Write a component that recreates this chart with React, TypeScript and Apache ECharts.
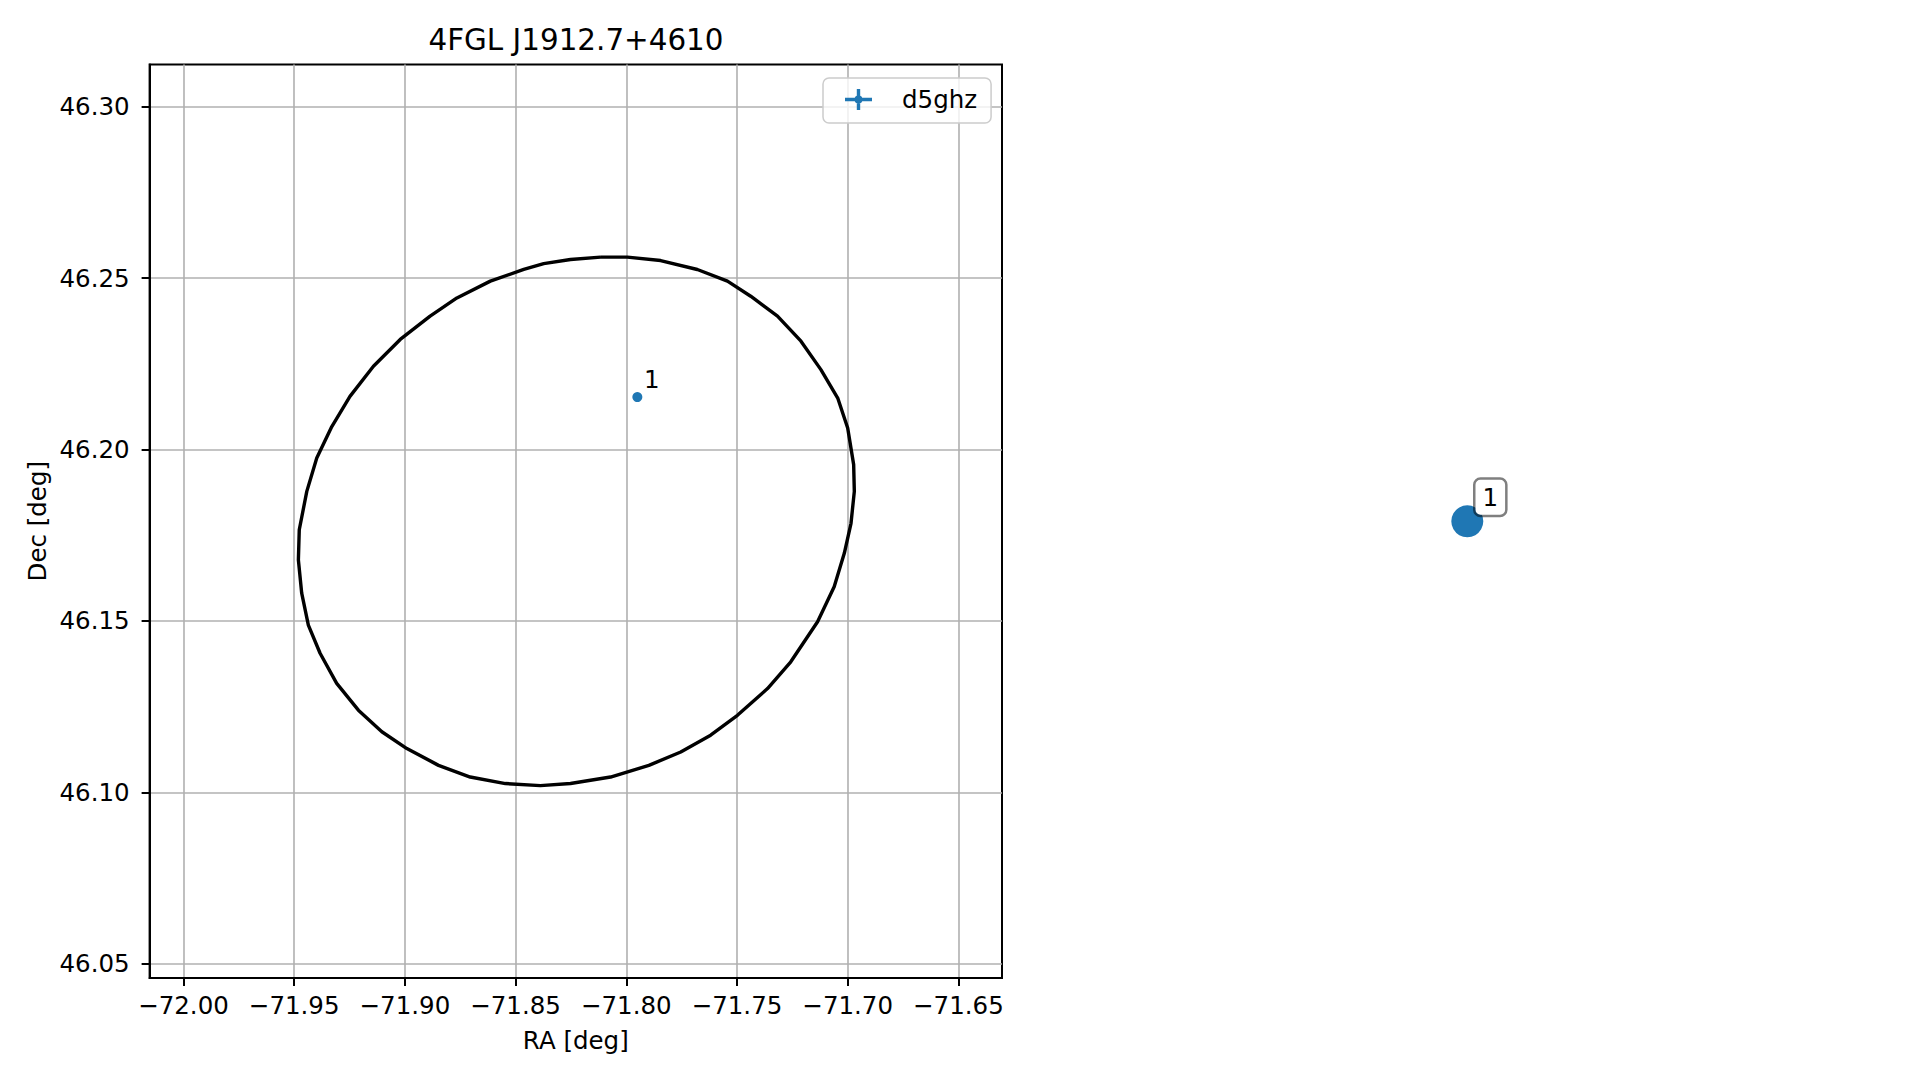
import React, { useEffect, useRef } from "react";
import * as echarts from "echarts";

const TITLE = "4FGL J1912.7+4610";
const SERIES_NAME = "d5ghz";

const ellipseRA = [-71.8116, -71.7995, -71.7845, -71.7679, -71.7543, -71.7438, -71.7317, -71.7211, -71.7121, -71.7045, -71.7000, -71.6973, -71.6970, -71.6985, -71.7015, -71.7061, -71.7136, -71.7257, -71.7362, -71.7498, -71.7619, -71.7754, -71.7898, -71.8071, -71.8252, -71.8388, -71.8546, -71.8705, -71.8848, -71.8991, -71.9104, -71.9210, -71.9308, -71.9383, -71.9436, -71.9466, -71.9481, -71.9477, -71.9443, -71.9398, -71.9330, -71.9248, -71.9142, -71.9021, -71.8886, -71.8765, -71.8614, -71.8463, -71.8373, -71.8252, -71.8116];
const ellipseDec = [46.2561, 46.2561, 46.2551, 46.2525, 46.2491, 46.2447, 46.2389, 46.2316, 46.2233, 46.2150, 46.2063, 46.1956, 46.1878, 46.1785, 46.1698, 46.1600, 46.1498, 46.1381, 46.1303, 46.1225, 46.1167, 46.1118, 46.1079, 46.1045, 46.1026, 46.1020, 46.1026, 46.1045, 46.1079, 46.1128, 46.1177, 46.1240, 46.1318, 46.1406, 46.1488, 46.1581, 46.1678, 46.1766, 46.1878, 46.1975, 46.2067, 46.2155, 46.2243, 46.2321, 46.2389, 46.2442, 46.2491, 46.2525, 46.2542, 46.2554, 46.2561];

const sourceRA = [-71.795];
const sourceDec = [46.2153];
const sourceLabels = ["1"];

const xTicks = [-72.0, -71.95, -71.9, -71.85, -71.8, -71.75, -71.7, -71.65];
const yTicks = [46.05, 46.1, 46.15, 46.2, 46.25, 46.3];
const xRange = [-72.0153, -71.6303];
const yRange = [46.0459, 46.3123];

const sideX = [0];
const sideY = [0];
const sideLabels = ["1"];

const FONT = "DejaVu Sans";
const BLUE = "#1f77b4";

const fmtX = (v: number) => (v < 0 ? "\u2212" : "") + Math.abs(v).toFixed(2);
const fmtY = (v: number) => v.toFixed(2);

export default function App() {
  const ref = useRef<HTMLDivElement>(null);
  useEffect(() => {
    if (!ref.current) return;
    const chart = echarts.init(ref.current, null, { renderer: "svg" });
    const ellipseData = ellipseRA.map((x, i) => [x, ellipseDec[i]]);
    const srcData = sourceRA.map((x, i) => ({ value: [x, sourceDec[i]], name: sourceLabels[i] }));
    const sideData = sideX.map((x, i) => ({ value: [x, sideY[i]], name: sideLabels[i] }));
    chart.setOption({
      animation: false,
      backgroundColor: "#fff",
      textStyle: { fontFamily: FONT },
      title: {
        text: TITLE,
        left: 576,
        top: 25.5,
        textAlign: "center",
        padding: 0,
        textStyle: { fontFamily: FONT, fontSize: 29.4, fontWeight: "normal", color: "#000" },
      },
      legend: {
        data: [SERIES_NAME],
        left: 823,
        top: 78,
        orient: "horizontal",
        padding: [9, 14, 11, 22],
        itemWidth: 27,
        itemHeight: 21,
        icon: "path://M0,8.8H27V12.2H0Z M11.8,0H15.2V21H11.8Z M17.5,10.5A4,4,0,1,1,9.5,10.5A4,4,0,1,1,17.5,10.5Z",
        borderColor: "#cccccc",
        borderWidth: 1.5,
        borderRadius: 6,
        backgroundColor: "rgba(255,255,255,0.8)",
        selectedMode: false,
        textStyle: { fontFamily: FONT, fontSize: 24.5, color: "#000", padding: [0, 0, 0, 25] },
      },
      grid: [
        {
          left: 149.6,
          top: 64.4,
          width: 852.4,
          height: 913.6,
          show: true,
          borderColor: "#000",
          borderWidth: 2,
          backgroundColor: "transparent",
          containLabel: false,
        },
        { left: 1367.3, top: 421.3, width: 200, height: 200, containLabel: false },
      ],
      xAxis: [
        {
          type: "value",
          gridIndex: 0,
          min: xRange[0],
          max: xRange[1],
          splitNumber: 7,
          name: "RA [deg]",
          nameLocation: "middle",
          nameGap: 49.5,
          nameTextStyle: { fontFamily: FONT, fontSize: 24.5, color: "#000" },
          axisLine: { show: true, onZero: false, lineStyle: { color: "#000", width: 2 } },
          axisTick: { show: true, length: 8, inside: false, customValues: xTicks, lineStyle: { color: "#000", width: 2 } },
          axisLabel: {
            show: true,
            customValues: xTicks,
            margin: 14.5,
            formatter: fmtX,
            fontFamily: FONT,
            fontSize: 24.5,
            color: "#000",
          },
          splitLine: { show: true, customValues: xTicks, lineStyle: { color: "#b0b0b0", width: 1.6 } },
        },
        { type: "value", gridIndex: 1, min: -1, max: 1, show: false },
      ],
      yAxis: [
        {
          type: "value",
          gridIndex: 0,
          min: yRange[0],
          max: yRange[1],
          splitNumber: 5,
          name: "Dec [deg]",
          nameLocation: "middle",
          nameGap: 100,
          nameTextStyle: { fontFamily: FONT, fontSize: 24.5, color: "#000" },
          axisLine: { show: true, onZero: false, lineStyle: { color: "#000", width: 2 } },
          axisTick: { show: true, length: 8, inside: false, customValues: yTicks, lineStyle: { color: "#000", width: 2 } },
          axisLabel: {
            show: true,
            customValues: yTicks,
            margin: 20,
            formatter: fmtY,
            fontFamily: FONT,
            fontSize: 24.5,
            color: "#000",
          },
          splitLine: { show: true, customValues: yTicks, lineStyle: { color: "#b0b0b0", width: 1.6 } },
        },
        { type: "value", gridIndex: 1, min: -1, max: 1, show: false },
      ],
      series: [
        {
          type: "line",
          name: "ellipse",
          xAxisIndex: 0,
          yAxisIndex: 0,
          data: ellipseData,
          showSymbol: false,
          symbol: "none",
          smooth: false,
          lineStyle: { color: "#000", width: 3.4 },
          itemStyle: { color: "#000" },
          z: 3,
        },
        {
          type: "scatter",
          name: SERIES_NAME,
          xAxisIndex: 0,
          yAxisIndex: 0,
          data: srcData,
          symbol: "circle",
          symbolSize: 10,
          itemStyle: { color: BLUE, opacity: 1 },
          label: {
            show: true,
            position: "inside",
            offset: [14.5, -17.5],
            formatter: (p: any) => p.name,
            fontFamily: FONT,
            fontSize: 24.5,
            color: "#000",
          },
          z: 4,
        },
        {
          type: "scatter",
          name: "side",
          xAxisIndex: 1,
          yAxisIndex: 1,
          data: sideData,
          symbol: "circle",
          symbolSize: 32,
          itemStyle: { color: BLUE, opacity: 1 },
          label: {
            show: true,
            position: "inside",
            offset: [23, -24],
            formatter: (p: any) => p.name,
            fontFamily: FONT,
            fontSize: 24.5,
            lineHeight: 25,
            color: "#000",
            backgroundColor: "#fff",
            borderColor: "rgba(0,0,0,0.5)",
            borderWidth: 2.5,
            borderRadius: 5,
            padding: [5, 7, 5, 7],
          },
          z: 4,
        },
      ],
    });
    return () => chart.dispose();
  }, []);
  return (
    <div
      ref={ref}
      style={{ position: "fixed", left: 0, top: 0, width: 1919, height: 1080, background: "#fff" }}
    />
  );
}
